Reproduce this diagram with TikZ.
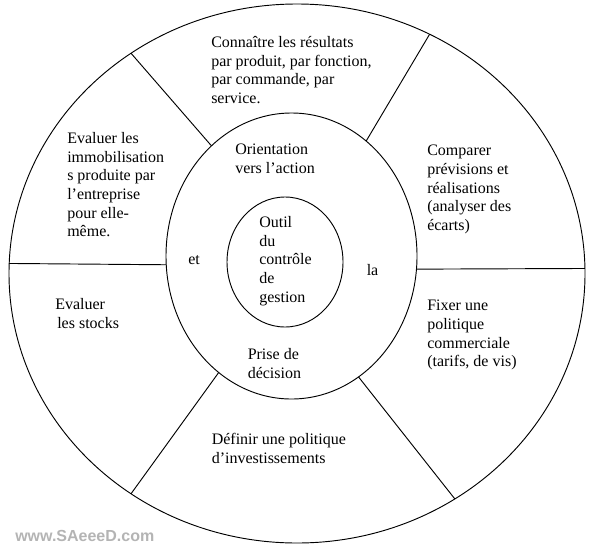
\documentclass[tikz,border=0pt]{standalone}
\usepackage{fontspec}
\setmainfont{Liberation Serif}
\setsansfont{Liberation Sans}
\newfontfamily\timesfont{Liberation Serif}
\usepackage{tikz}
\usetikzlibrary{shapes}
\definecolor{wmgray}{RGB}{180,180,180}
\tikzstyle{ring} = [ellipse, draw, line width = 0.7pt, inner sep = 0pt, outer sep = 0pt]
\tikzstyle{txt} = [anchor = north west, inner sep = 0pt, align = left, font = \timesfont\fontsize{12}{14}\selectfont]
\tikzstyle{word} = [anchor = base west, inner sep = 0pt, font = \timesfont\fontsize{12}{14}\selectfont]
\tikzstyle{mark2} = [anchor = north west, inner sep = 0pt, text = wmgray, font = \sffamily\bfseries\fontsize{12}{14}\selectfont]
\tikzstyle{line} = [draw, line width = 0.7pt]

\begin{document}
\begin{tikzpicture}[x = 0.75pt, y = -0.75pt]
			\useasboundingbox (0, 0) rectangle (591, 553);
			% Place nodes
			\node [ring, minimum width = 432pt, minimum height = 404.25pt] (outer) at (297, 273.5) {};
			\node [ring, minimum width = 188.25pt, minimum height = 214.5pt] (middle) at (291.5, 256) {};
			\node [ring, minimum width = 87pt, minimum height = 97.5pt] (inner) at (285, 262) {};
			\node [txt] (resultats) at (211, 36) {Connaître les résultats\\par produit, par fonction,\\par commande, par\\service.};
			\node [txt] (immo) at (67, 132) {Evaluer les\\immobilisation\\s produite par\\l’entreprise\\pour elle-\\même.};
			\node [txt] (action) at (235, 144) {Orientation\\vers l’action};
			\node [txt] (outil) at (259, 216) {Outil\\du\\contrôle\\de\\gestion};
			\node [word] (et) at (188, 264) {et};
			\node [word] (la) at (366.5, 275) {la};
			\node [txt] (comparer) at (427, 145) {Comparer\\prévisions et\\réalisations\\(analyser des\\écarts)};
			\node [txt] (stocks) at (55, 298) {Evaluer\\\hspace{1.5pt}les stocks};
			\node [txt] (decision) at (247.5, 348) {Prise de\\décision};
			\node [txt] (invest) at (211.5, 433) {Définir une politique\\d’investissements};
			\node [txt] (commerciale) at (427, 300) {Fixer une\\politique\\commerciale\\(tarifs, de vis)};
			\node [mark2] (site) at (15, 530) {www.SAeeeD.com};
			
			% Draw edges
			\path [line] (middle.126) -- (outer.127);
			\path [line] (middle.57) -- (outer.61);
			\path [line] (middle.184) -- (outer.178);
			\path [line] (middle.354) -- (outer.1);
			\path [line] (middle.238) -- (outer.233);
			\path [line] (middle.299) -- (outer.305);
		\end{tikzpicture}
\end{document}
